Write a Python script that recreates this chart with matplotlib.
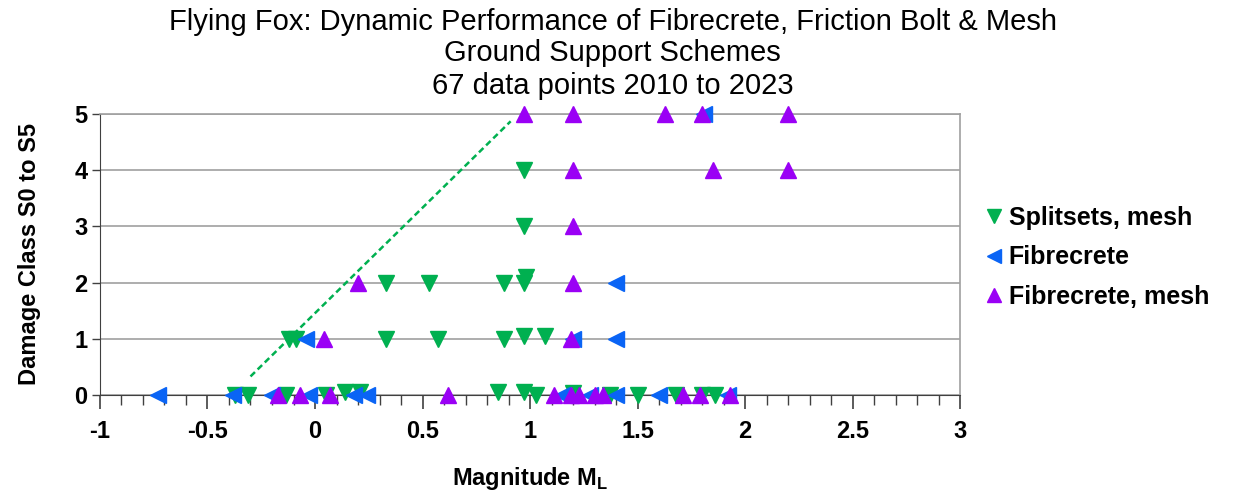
import numpy as np
import matplotlib
matplotlib.use("Agg")
import matplotlib.pyplot as plt
from matplotlib.ticker import MultipleLocator, FuncFormatter

plt.rcParams['font.family'] = ['Liberation Sans', 'DejaVu Sans']
plt.rcParams['mathtext.fontset'] = 'custom'
plt.rcParams['mathtext.bf'] = 'Liberation Sans:bold'
plt.rcParams['mathtext.rm'] = 'Liberation Sans:bold'

# Splitsets, mesh
split_x = [0.97, 0.97,
           0.33, 0.53, 0.88, 0.97, 0.98,
           -0.12, -0.09, 0.33, 0.57, 0.88, 0.97, 1.07,
           -0.37, -0.31, -0.135, 0.05, 0.14, 0.21, 0.85, 0.97, 1.03, 1.20, 1.37, 1.50, 1.68, 1.80, 1.86]
split_y = [4, 3,
           2, 2, 2, 2, 2.1,
           1, 1, 1, 1, 1, 1.05, 1.05,
           0, 0, 0, 0, 0.05, 0.05, 0.05, 0.05, 0, 0.03, 0, 0, 0, 0, 0]

# Fibrecrete
fibre_x = [1.81,
           1.40,
           -0.04, 1.20, 1.40,
           -0.73, -0.38, -0.20, -0.03, 0.18, 0.24, 1.15, 1.28, 1.40, 1.60, 1.92]
fibre_y = [5,
           2,
           1, 1, 1,
           0, 0, 0, 0, 0, 0, 0, 0, 0, 0, 0]

# Fibrecrete, mesh
fmesh_x = [0.97, 1.20, 1.63, 1.80, 2.20,
           1.20, 1.85, 2.20,
           1.20,
           0.20, 1.20,
           0.04, 1.19,
           -0.17, -0.07, 0.07, 0.62, 1.11, 1.19, 1.23, 1.30, 1.34, 1.71, 1.79, 1.93]
fmesh_y = [5, 5, 5, 5, 5,
           4, 4, 4,
           3,
           2, 2,
           1, 1,
           0, 0, 0, 0, 0, 0, 0, 0, 0, 0, 0, 0]

# trend line
trend_x = [-0.30, 0.91]
trend_y = [0.33, 4.87]

green = '#00B050'
blue = '#0A64F5'
purple = '#9A00F5'

fig = plt.figure(figsize=(12.33, 4.93), dpi=100)
ax = fig.add_axes([0.0811, 0.1988, 0.6975, 0.57])

ax.plot(trend_x, trend_y, color=green, linestyle=(0, (2.5, 1.5)), linewidth=1.8, zorder=2)
ax.plot(split_x, split_y, linestyle='none', marker='v', ms=12, color=green,
        label='Splitsets, mesh', zorder=3, clip_on=False)
ax.plot(fibre_x, fibre_y, linestyle='none', marker='<', ms=12, color=blue,
        label='Fibrecrete', zorder=3, clip_on=False)
ax.plot(fmesh_x, fmesh_y, linestyle='none', marker='^', ms=12, color=purple,
        label='Fibrecrete, mesh', zorder=3, clip_on=False)

ax.set_xlim(-1, 3)
ax.set_ylim(0, 5)
ax.xaxis.set_major_locator(MultipleLocator(0.5))
ax.xaxis.set_minor_locator(MultipleLocator(0.1))
ax.yaxis.set_major_locator(MultipleLocator(1))
ax.xaxis.set_major_formatter(FuncFormatter(lambda v, p: '%g' % v))
ax.grid(axis='y', color='#A0A0A0', linewidth=1.2)
ax.set_axisbelow(True)

for s in ['top', 'right']:
    ax.spines[s].set_color('#A0A0A0')
    ax.spines[s].set_linewidth(1.2)
ax.spines['left'].set_color('#404040')
ax.spines['bottom'].set_color('#404040')

ax.tick_params(axis='x', which='major', length=10, width=1.2, color='#404040', pad=8)
ax.tick_params(axis='x', which='minor', length=7, width=1.0, color='#404040')
ax.tick_params(axis='y', which='major', length=6, width=1.0, color='#404040', pad=3)
for lab in ax.get_xticklabels() + ax.get_yticklabels():
    lab.set_fontsize(17)
    lab.set_fontweight('bold')

ax.set_xlabel(r'Magnitude M$_{\mathbf{L}}$', fontsize=17, fontweight='bold', labelpad=16)
ax.set_ylabel('Damage Class S0 to S5', fontsize=17, fontweight='bold', labelpad=24)

title_font = ['Liberation Sans Narrow', 'Liberation Sans']
fig.text(0.497, 0.955, 'Flying Fox: Dynamic Performance of Fibrecrete, Friction Bolt & Mesh',
         ha='center', va='center', fontsize=21, family=title_font)
fig.text(0.497, 0.893, 'Ground Support Schemes',
         ha='center', va='center', fontsize=21, family=title_font)
fig.text(0.497, 0.826, '67 data points 2010 to 2023',
         ha='center', va='center', fontsize=21, family=title_font)

leg = ax.legend(loc='center left', bbox_to_anchor=(1.0, 0.49), frameon=False,
                prop={'weight': 'bold', 'size': 18}, handletextpad=0.15,
                handlelength=0.9, labelspacing=0.62, markerscale=0.8)

fig.savefig('out.png', dpi=100)
